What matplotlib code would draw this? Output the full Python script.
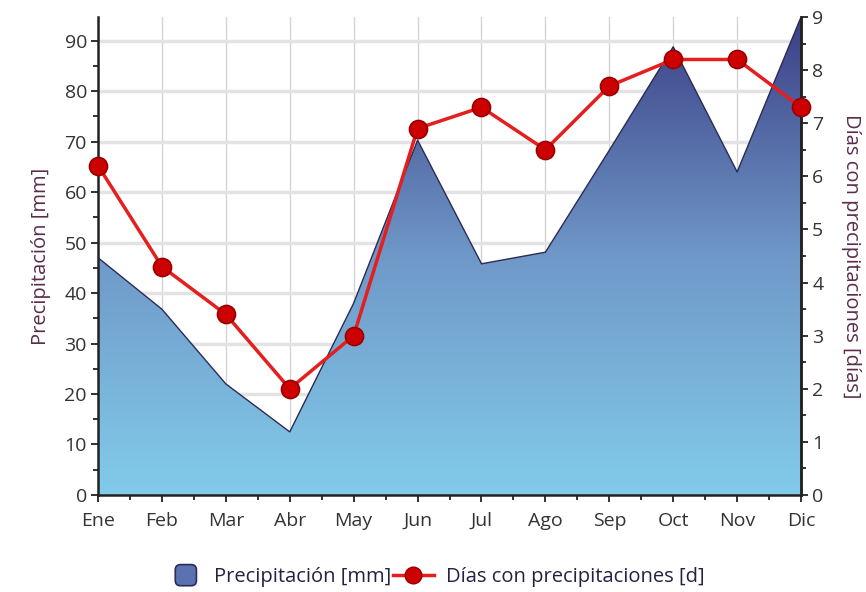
import numpy as np
import matplotlib
matplotlib.use("Agg")
import matplotlib.pyplot as plt
from matplotlib.colors import LinearSegmentedColormap
from matplotlib.lines import Line2D
from matplotlib.patches import Patch, FancyBboxPatch
from matplotlib.legend_handler import HandlerPatch
from matplotlib.ticker import MultipleLocator

months = ["Ene", "Feb", "Mar", "Abr", "May", "Jun", "Jul", "Ago", "Sep", "Oct", "Nov", "Dic"]
precip_mm = [47.0, 36.8, 22.0, 12.5, 38.0, 70.3, 45.8, 48.1, 68.3, 88.8, 64.0, 94.7]
rain_days = [6.2, 4.3, 3.4, 2.0, 3.0, 6.9, 7.3, 6.5, 7.7, 8.2, 8.2, 7.3]

plt.rcParams['font.family'] = ['Open Sans', 'DejaVu Sans']
label_color = "#5a2c4c"
tick_color = "#333333"


class SquareHandler(HandlerPatch):
    # rounded square legend key
    def create_artists(self, legend, orig_handle, xdescent, ydescent, width, height, fontsize, trans):
        side = height * 1.5
        p = FancyBboxPatch((width - side - 4, -ydescent - (side - height) / 2), side, side,
                           boxstyle="round,pad=0,rounding_size=%f" % (side * 0.25),
                           facecolor=orig_handle.get_facecolor(),
                           edgecolor=orig_handle.get_edgecolor(), lw=1.2, transform=trans)
        return [p]


fig = plt.figure(figsize=(8.66, 5.92), dpi=100)
ax = fig.add_axes([0.1132, 0.1639, 0.8118, 0.8074])
x = np.arange(len(months))
ymax = 94.7

# gradient area
cmap = LinearSegmentedColormap.from_list("precip", ["#82cbea", "#6f98c8", "#3b3f86"])
grad = np.linspace(0, 1, 256).reshape(-1, 1)
poly = ax.fill_between(x, 0, precip_mm, facecolor="none", edgecolor="none")
img = ax.imshow(grad, cmap=cmap, aspect="auto", origin="lower",
                extent=[0, len(months) - 1, 0, ymax], zorder=2)
img.set_clip_path(poly.get_paths()[0], transform=ax.transData)
ax.plot(x, precip_mm, color="#2b2b55", lw=1.0, zorder=3)

ax.set_xlim(0, len(months) - 1)
ax.set_ylim(0, ymax)
ax.set_xticks(x)
ax.set_xticklabels(months)
ax.xaxis.set_minor_locator(MultipleLocator(0.5))
ax.yaxis.set_major_locator(MultipleLocator(10))
ax.yaxis.set_minor_locator(MultipleLocator(5))
ax.set_axisbelow(True)
ax.grid(axis="y", which="major", color="#e3e3e3", lw=2.5)
ax.grid(axis="x", which="major", color="#d4d4d4", lw=1.0)
ax.set_ylabel("Precipitación [mm]", color=label_color, fontsize=14.5, labelpad=10)

ax.spines["top"].set_visible(False)
for s in ["left", "bottom", "right"]:
    ax.spines[s].set_color("#222222")
    ax.spines[s].set_linewidth(1.8)
ax.tick_params(which="major", length=5, width=1.3, colors="#222222", labelcolor=tick_color, labelsize=14, pad=3)
ax.tick_params(axis="x", which="major", pad=7)
ax.tick_params(which="minor", length=3.5, width=1.3, colors="#222222")

ax2 = ax.twinx()
ax2.set_ylim(0, 9)
ax2.yaxis.set_major_locator(MultipleLocator(1))
ax2.yaxis.set_minor_locator(MultipleLocator(0.5))
ax2.plot(x, rain_days, color="#e51e1e", lw=2.5, marker="o", markersize=13,
         markerfacecolor="#cc0000", markeredgecolor="#9a0000", markeredgewidth=1.2,
         clip_on=False, zorder=5)
ax2.spines["top"].set_visible(False)
ax2.spines["left"].set_visible(False)
ax2.spines["bottom"].set_visible(False)
ax2.spines["right"].set_color("#222222")
ax2.spines["right"].set_linewidth(1.8)
ax2.tick_params(which="major", length=5, width=1.3, colors="#222222", labelcolor=tick_color, labelsize=14, pad=3)
ax2.tick_params(which="minor", length=3.5, width=1.3, colors="#222222")
ax2.set_ylabel("Días con precipitaciones [días]", color=label_color, fontsize=14.5,
               rotation=-90, labelpad=27)

handles = [
    Patch(facecolor="#5a72b0", edgecolor="#2b2b55", label="Precipitación [mm]"),
    Line2D([0], [0], color="#e51e1e", lw=2.5, marker="o", markersize=12,
           markerfacecolor="#cc0000", markeredgecolor="#9a0000",
           label="Días con precipitaciones [d]"),
]
fig.legend(handles=handles, loc="center", bbox_to_anchor=(0.5, 0.025), ncol=2,
           frameon=False, fontsize=14.5, handlelength=2.0, columnspacing=0.1,
           handletextpad=0.6, labelcolor="#222244",
           handler_map={Patch: SquareHandler()})

fig.savefig("out.png", dpi=100)
